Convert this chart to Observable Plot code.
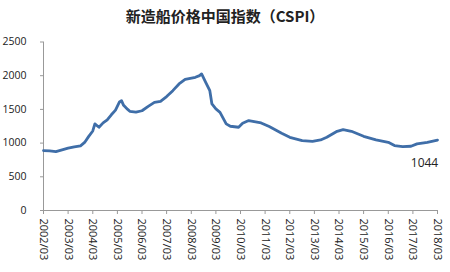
<!DOCTYPE html>
<html><head><meta charset="utf-8">
<script src="https://cdn.jsdelivr.net/npm/d3@7"></script>
<script src="https://cdn.jsdelivr.net/npm/@observablehq/plot@0.6"></script>
<style>
body{margin:0;background:#fff;font-family:"Open Sans",sans-serif;}
#title{height:30px;line-height:31px;width:450px;text-align:center;font-family:"Noto Sans CJK SC",sans-serif;font-weight:bold;font-size:15px;color:#222;}
</style>
</head><body>
<div id="title">新造船价格中国指数（CSPI）</div>
<div id="chart"></div>
<script>
const months = ["2002-03","2002-06","2002-09","2002-12","2003-03","2003-06","2003-09","2003-11","2004-01","2004-03","2004-04","2004-06","2004-08","2004-10","2004-12","2005-02","2005-04","2005-05","2005-06","2005-08","2005-09","2005-12","2006-03","2006-06","2006-09","2006-12","2007-03","2007-06","2007-09","2007-12","2008-05","2008-07","2008-08","2008-10","2008-12","2009-01","2009-03","2009-05","2009-08","2009-10","2010-02","2010-04","2010-07","2011-01","2011-05","2011-11","2012-03","2012-09","2013-02","2013-06","2013-09","2014-02","2014-05","2014-09","2015-03","2015-09","2016-03","2016-06","2016-10","2017-02","2017-05","2017-10","2018-03"];
const cspi = [889,885,875,900,925,945,960,1010,1100,1180,1285,1235,1300,1345,1420,1490,1610,1630,1560,1500,1472,1460,1480,1545,1605,1620,1690,1778,1877,1945,1976,2001,2026,1901,1778,1581,1507,1457,1285,1250,1235,1294,1334,1299,1245,1146,1086,1037,1027,1047,1086,1175,1200,1175,1101,1047,1012,963,948,953,988,1012,1044];
const xTickLabels = ["2002/03","2003/03","2004/03","2005/03","2006/03","2007/03","2008/03","2009/03","2010/03","2011/03","2012/03","2013/03","2014/03","2015/03","2016/03","2017/03","2018/03"];
const yTicks = [0,500,1000,1500,2000,2500];
const lastLabel = "1044";

const parse = d3.utcParse("%Y-%m");
const data = months.map((m,i)=>({date: parse(m), value: cspi[i]}));
const tickDates = xTickLabels.map(s => d3.utcParse("%Y/%m")(s));
const fmt = d3.utcFormat("%Y/%m");

const chart = Plot.plot({
  width: 450, height: 242,
  marginTop: 11.5, marginBottom: 62, marginLeft: 43, marginRight: 13,
  style: {fontFamily: "Open Sans, sans-serif", color: "#222", background: "#fff"},
  x: {type: "utc", domain: [tickDates[0], tickDates[tickDates.length-1]]},
  y: {domain: [0, 2500]},
  marks: [
    Plot.ruleY([0], {stroke: "#999"}),
    Plot.ruleX([tickDates[0]], {stroke: "#999"}),
    Plot.axisX({ticks: tickDates, tickFormat: fmt, tickRotate: 90, tickSize: 4, tickPadding: 4, fontSize: 11, stroke: "#999", fill: "#222", label: null}),
    Plot.axisY({ticks: yTicks, tickFormat: d3.format("d"), tickSize: 3, tickPadding: 14, fontSize: 10.5, stroke: "#999", fill: "#222", label: null}),
    Plot.line(data, {x: "date", y: "value", stroke: "#3f6ea8", strokeWidth: 2.8, curve: "linear"}),
    Plot.text([data[data.length-1]], {x: "date", y: "value", text: () => lastLabel, dx: -13, dy: 23, fontSize: 12, fill: "#222"})
  ]
});
document.getElementById("chart").appendChild(chart);
</script>
</body></html>
